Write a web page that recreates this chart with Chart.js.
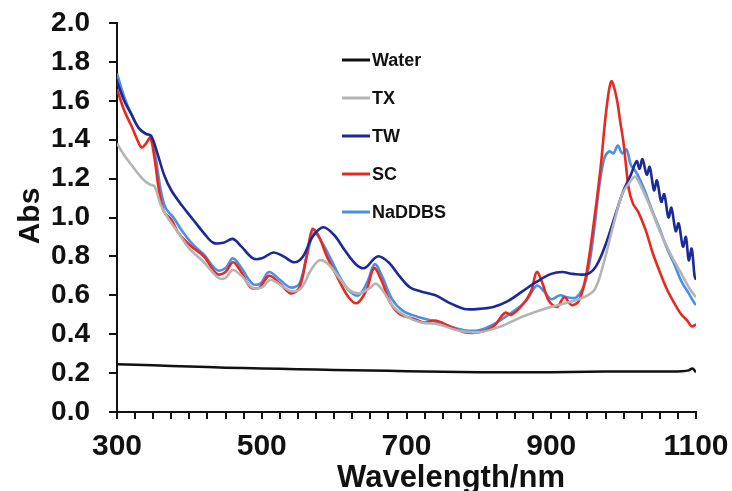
<!DOCTYPE html>
<html>
<head>
<meta charset="utf-8">
<script src="https://cdn.jsdelivr.net/npm/chart.js@4"></script>
<style>
html, body { margin: 0; padding: 0; background: #fff; }
#wrap { width: 732px; height: 491px; }
</style>
</head>
<body>
<div id="wrap"><canvas id="grafico"></canvas></div>
<script>
// spectra (wavelength in nm, absorbance)
const waterNm  = [300, 350, 400, 450, 500, 550, 600, 650, 700, 750, 800, 850, 900, 950, 1000, 1050, 1080, 1090, 1095, 1100];
const waterAbs = [0.245, 0.240, 0.234, 0.228, 0.224, 0.220, 0.216, 0.213, 0.210, 0.207, 0.205, 0.204, 0.205, 0.207, 0.208, 0.208, 0.210, 0.214, 0.224, 0.205];

const txNm  = [300, 310, 320, 335, 345, 352, 360, 370, 385, 400, 420, 440, 450, 460, 472, 487, 500, 512, 527, 542, 555, 568, 580, 592, 605, 620, 635, 650, 658, 668, 682, 700, 720, 745, 770, 800, 830, 860, 890, 920, 945, 960, 972, 985, 998, 1008, 1016, 1024, 1035, 1050, 1065, 1080, 1092, 1100];
const txAbs = [1.38, 1.32, 1.27, 1.20, 1.17, 1.16, 1.07, 1.00, 0.92, 0.84, 0.77, 0.69, 0.69, 0.73, 0.70, 0.64, 0.64, 0.68, 0.65, 0.62, 0.64, 0.73, 0.78, 0.76, 0.70, 0.63, 0.61, 0.64, 0.66, 0.62, 0.54, 0.49, 0.46, 0.45, 0.42, 0.41, 0.44, 0.49, 0.53, 0.56, 0.59, 0.63, 0.76, 0.95, 1.12, 1.18, 1.21, 1.16, 1.07, 0.93, 0.81, 0.71, 0.63, 0.59];

const twNm  = [300, 310, 320, 330, 340, 347, 355, 365, 375, 390, 405, 420, 433, 447, 460, 472, 488, 500, 516, 530, 545, 557, 570, 585, 600, 615, 630, 642, 660, 675, 690, 705, 720, 740, 760, 780, 800, 820, 840, 860, 880, 900, 915, 930, 950, 962, 975, 990, 1000, 1010, 1018, 1022, 1026, 1032, 1036, 1042, 1046, 1052, 1056, 1062, 1066, 1072, 1076, 1082, 1086, 1090, 1094, 1098, 1100];
const twAbs = [1.70, 1.60, 1.53, 1.46, 1.43, 1.42, 1.34, 1.22, 1.14, 1.06, 0.99, 0.92, 0.87, 0.87, 0.89, 0.85, 0.79, 0.79, 0.82, 0.80, 0.77, 0.80, 0.90, 0.95, 0.91, 0.83, 0.76, 0.74, 0.80, 0.77, 0.70, 0.64, 0.62, 0.60, 0.56, 0.53, 0.53, 0.54, 0.57, 0.62, 0.67, 0.71, 0.72, 0.71, 0.71, 0.75, 0.86, 1.03, 1.14, 1.22, 1.29, 1.25, 1.30, 1.22, 1.26, 1.14, 1.19, 1.08, 1.12, 1.00, 1.05, 0.93, 0.97, 0.85, 0.90, 0.78, 0.84, 0.70, 0.68];

const scNm  = [300, 310, 320, 328, 334, 340, 346, 352, 358, 365, 375, 385, 400, 420, 438, 450, 460, 470, 485, 497, 510, 525, 540, 552, 562, 570, 578, 590, 605, 620, 632, 645, 655, 665, 678, 692, 710, 725, 740, 760, 780, 800, 820, 836, 845, 860, 872, 880, 888, 897, 908, 918, 928, 938, 948, 958, 968, 976, 983, 990, 995, 1000, 1007, 1013, 1020, 1030, 1040, 1050, 1060, 1070, 1080, 1088, 1094, 1100];
const scAbs = [1.66, 1.55, 1.47, 1.40, 1.36, 1.38, 1.41, 1.30, 1.14, 1.03, 0.99, 0.92, 0.86, 0.80, 0.71, 0.72, 0.77, 0.73, 0.64, 0.64, 0.70, 0.66, 0.61, 0.64, 0.80, 0.94, 0.91, 0.80, 0.69, 0.59, 0.56, 0.63, 0.74, 0.68, 0.56, 0.50, 0.48, 0.46, 0.47, 0.44, 0.41, 0.41, 0.44, 0.51, 0.50, 0.55, 0.62, 0.72, 0.66, 0.57, 0.54, 0.59, 0.55, 0.57, 0.70, 0.95, 1.25, 1.55, 1.70, 1.62, 1.50, 1.38, 1.15, 1.07, 1.03, 0.94, 0.82, 0.72, 0.63, 0.56, 0.50, 0.47, 0.44, 0.45];

const nadNm  = [300, 310, 320, 330, 340, 347, 353, 360, 367, 378, 390, 405, 420, 438, 450, 460, 472, 487, 498, 510, 525, 540, 552, 562, 572, 582, 595, 610, 622, 634, 646, 656, 666, 680, 695, 715, 735, 760, 780, 800, 820, 845, 865, 880, 890, 900, 912, 922, 935, 948, 958, 966, 973, 980, 986, 992, 998, 1004, 1010, 1016, 1022, 1030, 1040, 1050, 1060, 1070, 1080, 1090, 1096, 1100];
const nadAbs = [1.74, 1.62, 1.53, 1.46, 1.43, 1.42, 1.32, 1.15, 1.05, 1.00, 0.93, 0.86, 0.81, 0.73, 0.74, 0.79, 0.74, 0.66, 0.66, 0.72, 0.68, 0.64, 0.66, 0.80, 0.92, 0.88, 0.79, 0.68, 0.62, 0.60, 0.67, 0.76, 0.70, 0.58, 0.52, 0.49, 0.47, 0.44, 0.42, 0.42, 0.45, 0.51, 0.57, 0.65, 0.62, 0.58, 0.60, 0.59, 0.59, 0.68, 0.90, 1.15, 1.30, 1.34, 1.33, 1.37, 1.33, 1.35, 1.27, 1.24, 1.20, 1.13, 1.03, 0.94, 0.84, 0.76, 0.67, 0.61, 0.57, 0.55];

const nomes = ["Water", "TX", "TW", "SC", "NaDDBS"];
const cores = ["#111111", "#b4b4b4", "#1b2a97", "#e8291f", "#4d8fe8"];
const xTicks = [300, 500, 700, 900, 1100];

const FONTE = "'Liberation Sans', Arial, Helvetica, sans-serif";

function pares(nm, abs) {
    return nm.map((v, i) => ({ x: v, y: abs[i] }));
}

const series = [
    pares(waterNm, waterAbs),
    pares(txNm, txAbs),
    pares(twNm, twAbs),
    pares(scNm, scAbs),
    pares(nadNm, nadAbs)
];

// legend and axis titles drawn by hand so they sit where the original puts them
const extras = {
    id: "extras",
    afterDraw(chart) {
        const ctx = chart.ctx;
        ctx.save();
        ctx.fillStyle = "#111";
        ctx.font = "bold 18px " + FONTE;
        ctx.textBaseline = "middle";
        chart.data.datasets.forEach((ds, i) => {
            const y = 60 + i * 38;
            ctx.strokeStyle = ds.borderColor;
            ctx.lineWidth = 3;
            ctx.beginPath();
            ctx.moveTo(342, y);
            ctx.lineTo(370, y);
            ctx.stroke();
            ctx.fillText(ds.label, 372, y + 1);
        });

        ctx.font = "bold 31px " + FONTE;
        ctx.textAlign = "center";
        ctx.textBaseline = "alphabetic";
        ctx.fillText("Wavelength/nm", 451, 487);

        ctx.translate(39, 216);
        ctx.rotate(-Math.PI / 2);
        ctx.font = "bold 30px " + FONTE;
        ctx.fillText("Abs", 0, 0);
        ctx.restore();
    }
};

new Chart(document.getElementById("grafico"), {
    type: "line",
    data: {
        datasets: series.map((d, i) => ({
            label: nomes[i],
            data: d,
            borderColor: cores[i],
            backgroundColor: cores[i],
            borderWidth: i === 0 ? 2.5 : 2.6,
            pointRadius: 0,
            tension: 0.35,
            fill: false
        }))
    },
    options: {
        responsive: true,
        maintainAspectRatio: false,
        animation: false,
        layout: { padding: { top: 23, right: 36, left: 0, bottom: 0 } },
        plugins: {
            legend: { display: false },
            tooltip: { enabled: false }
        },
        scales: {
            x: {
                type: "linear",
                min: 300,
                max: 1100,
                afterFit: s => { s.height = 79; s.paddingLeft = 0; s.paddingRight = 0; },
                ticks: {
                    stepSize: 25,
                    autoSkip: false,
                    maxRotation: 0,
                    padding: 10,
                    color: "#111",
                    font: { family: FONTE, size: 30, weight: "bold" },
                    callback: v => xTicks.includes(v) ? String(v) : ""
                },
                grid: { drawOnChartArea: false, tickLength: 7, color: "#111", lineWidth: 2 },
                border: { color: "#111", width: 2 }
            },
            y: {
                min: 0,
                max: 2,
                afterFit: s => { s.width = 117; s.paddingTop = 0; s.paddingBottom = 0; },
                ticks: {
                    stepSize: 0.2,
                    padding: 19,
                    color: "#111",
                    font: { family: FONTE, size: 28, weight: "bold" },
                    callback: v => v.toFixed(1)
                },
                grid: { drawOnChartArea: false, tickLength: 8, color: "#111", lineWidth: 2 },
                border: { color: "#111", width: 2 }
            }
        }
    },
    plugins: [extras]
});
</script>
</body>
</html>
